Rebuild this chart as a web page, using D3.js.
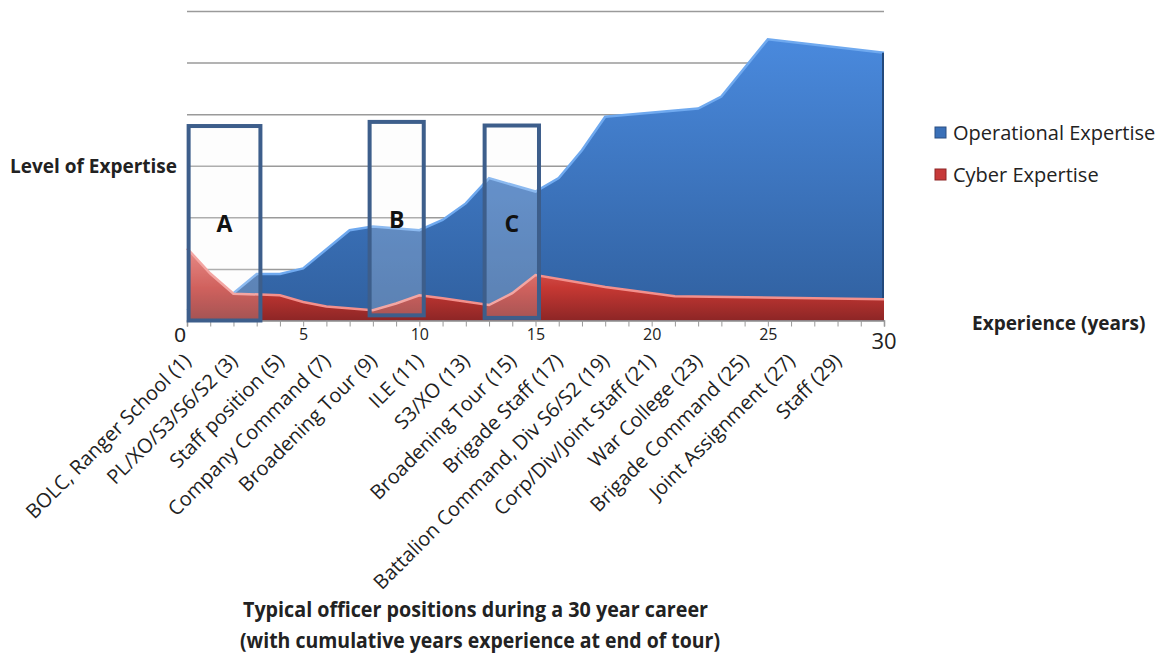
<!DOCTYPE html>
<html>
<head>
<meta charset="utf-8">
<script src="https://cdn.jsdelivr.net/npm/d3@7"></script>
<style>
  body { margin: 0; background: #fff; }
  text { font-family: "Open Sans", sans-serif; fill: #222; }
</style>
</head>
<body>
<div id="chart"></div>
<script>

// career years (x) and read-off levels (y) for each series
var opYears   = [0, 2, 3, 4, 5, 7, 8, 10, 11, 12, 13, 15, 16, 17, 18, 22, 23, 25, 30];
var opLevel   = [0.2, 0.53, 0.9, 0.9, 1.01, 1.75, 1.82, 1.75, 1.95, 2.27, 2.76, 2.5, 2.76, 3.3, 3.95, 4.11, 4.34, 5.45, 5.19];

var cyberYears = [0, 1, 2, 4, 5, 6, 8, 9, 10, 11, 13, 14, 15, 18, 21, 30];
var cyberLevel = [1.4, 0.91, 0.52, 0.49, 0.36, 0.27, 0.2, 0.33, 0.49, 0.43, 0.3, 0.53, 0.88, 0.65, 0.47, 0.41];

// positions held, at the end of each tour (odd years)
var positions = ["BOLC, Ranger School (1)", "PL/XO/S3/S6/S2 (3)", "Staff position (5)",
  "Company Command (7)", "Broadening Tour (9)", "ILE (11)", "S3/XO (13)",
  "Broadening Tour (15)", "Brigade Staff (17)", "Battalion Command, Div S6/S2 (19)",
  "Corp/Div/Joint Staff (21)", "War College (23)", "Brigade Command (25)",
  "Joint Assignment (27)", "Staff (29)"];
var positionYears = [1, 3, 5, 7, 9, 11, 13, 15, 17, 19, 21, 23, 25, 27, 29];

var xTickLabels = [5, 10, 15, 20, 25];
var gridLevels = [1, 2, 3, 4, 5, 6];

// highlighted windows A, B, C
var boxLabels = ["A", "B", "C"];
var boxStart  = [0.07, 7.86, 12.81];
var boxEnd    = [3.16, 10.19, 15.15];
var boxTop    = [3.77, 3.85, 3.78];
var boxBottom = [0, 0.1, 0.05];

var seriesNames = ["Operational Expertise", "Cyber Expertise"];

var W = 1161, H = 659;

var svg = d3.select("#chart").append("svg")
  .attr("width", W)
  .attr("height", H);

var x = d3.scaleLinear().domain([0, 30]).range([187, 884]);
var y = d3.scaleLinear().domain([0, 6]).range([320.5, 11]);

var defs = svg.append("defs");

var blueGrad = defs.append("linearGradient")
  .attr("id", "blueGrad")
  .attr("gradientUnits", "userSpaceOnUse")
  .attr("x1", 0).attr("x2", 0).attr("y1", 35).attr("y2", 320);
blueGrad.append("stop").attr("offset", "0%").attr("stop-color", "#4a8ade");
blueGrad.append("stop").attr("offset", "100%").attr("stop-color", "#30609f");

var redGrad = defs.append("linearGradient")
  .attr("id", "redGrad")
  .attr("gradientUnits", "userSpaceOnUse")
  .attr("x1", 0).attr("x2", 0).attr("y1", 248).attr("y2", 320);
redGrad.append("stop").attr("offset", "0%").attr("stop-color", "#e46f6a");
redGrad.append("stop").attr("offset", "55%").attr("stop-color", "#c63833");
redGrad.append("stop").attr("offset", "100%").attr("stop-color", "#8e2626");

// gridlines
svg.append("g")
  .attr("class", "grid")
  .attr("transform", "translate(187,0)")
  .call(d3.axisLeft(y).tickValues(gridLevels).tickSize(-(884 - 187)).tickFormat(""))
  .call(g => g.select(".domain").remove())
  .selectAll("line")
  .attr("stroke", "#9a9a9a")
  .attr("stroke-width", 1.5);

var opData = opYears.map((v, i) => ({ yr: v, lvl: opLevel[i] }));
var cyData = cyberYears.map((v, i) => ({ yr: v, lvl: cyberLevel[i] }));

var area = d3.area()
  .x(d => x(d.yr))
  .y0(y(0))
  .y1(d => y(d.lvl));

var topLine = d3.line()
  .x(d => x(d.yr))
  .y(d => y(d.lvl));

// operational (behind)
svg.append("path")
  .datum(opData)
  .attr("d", area)
  .attr("fill", "url(#blueGrad)");
svg.append("path")
  .datum(opData)
  .attr("d", topLine)
  .attr("fill", "none")
  .attr("stroke", "#6fa9ef")
  .attr("stroke-width", 2.5);
svg.append("line")
  .attr("x1", x(30) - 1).attr("x2", x(30) - 1)
  .attr("y1", y(opLevel[opLevel.length - 1])).attr("y2", y(0))
  .attr("stroke", "#23497c").attr("stroke-width", 2);

// cyber (front)
svg.append("path")
  .datum(cyData)
  .attr("d", area)
  .attr("fill", "url(#redGrad)");
svg.append("path")
  .datum(cyData)
  .attr("d", topLine)
  .attr("fill", "none")
  .attr("stroke", "#f3908c")
  .attr("stroke-width", 2.5);

// x axis with yearly ticks
svg.append("g")
  .attr("transform", "translate(0," + y(0) + ")")
  .call(d3.axisBottom(x).ticks(30).tickSize(6).tickFormat(""))
  .call(g => g.select(".domain").attr("stroke", "#8c8c8c").attr("stroke-width", 1.5))
  .selectAll(".tick line").attr("stroke", "#999");

svg.append("g")
  .attr("transform", "translate(0," + y(0) + ")")
  .call(d3.axisBottom(x).tickValues(xTickLabels).tickSize(0).tickPadding(8))
  .call(g => g.select(".domain").remove())
  .selectAll("text")
  .style("font-family", "Open Sans, sans-serif")
  .style("font-size", "16px")
  .attr("fill", "#222");

svg.append("text")
  .attr("x", x(0) - 7)
  .attr("y", 342)
  .attr("text-anchor", "middle")
  .style("font-family", "Liberation Sans, sans-serif")
  .style("font-size", "21px")
  .text("0");

svg.append("text")
  .attr("x", x(30))
  .attr("y", 349)
  .attr("text-anchor", "middle")
  .style("font-size", "22px")
  .text("30");

// highlight boxes
var boxes = svg.append("g").selectAll("g")
  .data(boxLabels)
  .enter().append("g");

boxes.append("rect")
  .attr("x", (d, i) => x(boxStart[i]))
  .attr("y", (d, i) => y(boxTop[i]))
  .attr("width", (d, i) => x(boxEnd[i]) - x(boxStart[i]))
  .attr("height", (d, i) => y(boxBottom[i]) - y(boxTop[i]))
  .attr("fill", "#f7f7f7")
  .attr("fill-opacity", 0.22)
  .attr("stroke", "#3d5e8b")
  .attr("stroke-width", 4);

boxes.append("text")
  .attr("x", (d, i) => (x(boxStart[i]) + x(boxEnd[i])) / 2)
  .attr("y", (d, i) => y(boxTop[i]) + 106)
  .attr("text-anchor", "middle")
  .style("font-weight", "bold")
  .style("font-size", "23px")
  .style("fill", "#111")
  .text(d => d);

// rotated position labels
svg.append("g").selectAll("text")
  .data(positions)
  .enter().append("text")
  .attr("transform", (d, i) => "translate(" + (x(positionYears[i]) - 18) + ",362) rotate(-45)")
  .attr("text-anchor", "end")
  .style("font-size", "20px")
  .text(d => d);

// legend
var legend = svg.append("g");
var legendColors = ["#3a70b8", "#c73a3a"];
var legendY = [140, 182];
seriesNames.forEach(function(name, i) {
  legend.append("rect")
    .attr("x", 935).attr("y", legendY[i] - 13)
    .attr("width", 11).attr("height", 11)
    .attr("fill", legendColors[i])
    .attr("stroke", i == 0 ? "#2a4f82" : "#8e2626")
    .attr("stroke-width", 1);
  legend.append("text")
    .attr("x", 953).attr("y", legendY[i])
    .style("font-size", "20px")
    .text(name);
});

// axis titles
svg.append("text")
  .attr("x", 10).attr("y", 173)
  .style("font-weight", "bold")
  .style("font-size", "19px")
  .text("Level of Expertise");

svg.append("text")
  .attr("x", 972).attr("y", 330)
  .style("font-weight", "bold")
  .style("font-size", "19px")
  .text("Experience (years)");

svg.append("text")
  .attr("x", 243).attr("y", 617)
  .attr("textLength", 465)
  .attr("lengthAdjust", "spacingAndGlyphs")
  .style("font-weight", "bold")
  .style("font-size", "22px")
  .text("Typical officer positions during a 30 year career");

svg.append("text")
  .attr("x", 240).attr("y", 648)
  .attr("textLength", 480)
  .attr("lengthAdjust", "spacingAndGlyphs")
  .style("font-weight", "bold")
  .style("font-size", "22px")
  .text("(with cumulative years experience at end of tour)");

</script>
</body>
</html>
